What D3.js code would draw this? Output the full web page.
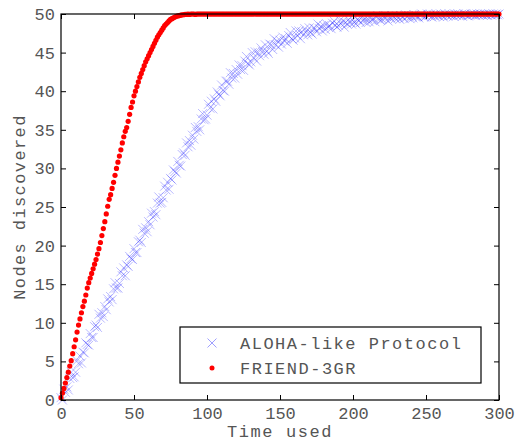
<!DOCTYPE html>
<html>
<head>
<meta charset="utf-8">
<script src="https://cdn.jsdelivr.net/npm/d3@7"></script>
<style>
  body { margin: 0; background: #fff; }
  text { font-family: "Liberation Mono", "DejaVu Sans Mono", monospace; fill: #555; }
</style>
</head>
<body>
<svg width="516" height="441"></svg>
<script>
// time steps (one sample per time unit)
const timeSteps = d3.range(0, 301);

// FRIEND-3GR, nodes discovered per time step
const friendNodes = [
  0.3, 0.9, 1.5, 2.2, 2.9, 3.6, 4.4, 5.1, 6.0, 6.9,
  7.8, 8.8, 9.7, 10.5, 11.3, 12.1, 12.8, 13.6, 14.5, 15.2,
  15.8, 16.4, 17.0, 17.6, 18.2, 18.9, 19.6, 20.4, 21.3, 22.2,
  23.1, 24.1, 25.1, 26.0, 26.6, 27.4, 28.2, 29.1, 30.0, 30.8,
  31.6, 32.4, 33.3, 34.1, 34.8, 35.3, 36.1, 37.0, 37.9, 38.6,
  39.4, 40.0, 40.6, 41.2, 41.8, 42.3, 42.8, 43.3, 43.8, 44.2,
  44.6, 45.0, 45.4, 45.8, 46.2, 46.6, 47.0, 47.3, 47.6, 47.9,
  48.2, 48.5, 48.7, 48.9, 49.1, 49.3, 49.4, 49.5, 49.6, 49.7,
  49.75, 49.8, 49.85, 49.9, 49.9, 49.95, 49.95, 50, 49.95, 50,
  50, 50, 49.95, 50, 50, 50, 50, 50, 50, 50,
  50, 50, 50, 50, 50, 50, 50, 50, 50, 50, 50, 50, 50, 50, 50, 50, 50, 50, 50, 50,
  50, 50, 50, 50, 50, 50, 50, 50, 50, 50, 50, 50, 50, 50, 50, 50, 50, 50, 50, 50,
  50, 50, 50, 50, 50, 50, 50, 50, 50, 50, 50, 50, 50, 50, 50, 50, 50, 50, 50, 50,
  50, 50, 50, 50, 50, 50, 50, 50, 50, 50, 50, 50, 50, 50, 50, 50, 50, 50, 50, 50,
  50, 50, 50, 50, 50, 50, 50, 50, 50, 50, 50, 50, 50, 50, 50, 50, 50, 50, 50, 50,
  50, 50, 50, 50, 50, 50, 50, 50, 50, 50, 50, 50, 50, 50, 50, 50, 50, 50, 50, 50,
  50, 50, 50, 50, 50, 50, 50, 50, 50, 50, 50, 50, 50, 50, 50, 50, 50, 50, 50, 50,
  50, 50, 50, 50, 50, 50, 50, 50, 50, 50, 50, 50, 50, 50, 50, 50, 50, 50, 50, 50,
  50, 50, 50, 50, 50, 50, 50, 50, 50, 50, 50, 50, 50, 50, 50, 50, 50, 50, 50, 50,
  50, 50, 50, 50, 50, 50, 50, 50, 50, 50, 50, 50, 50, 50, 50, 50, 50, 50, 50, 50,
  50
];

// ALOHA-like protocol, nodes discovered per time step
const alohaNodes = [
  0.3, 0.0, 1.4, 1.0, 1.7, 1.3, 2.8, 3.6, 2.9, 3.0,
  3.6, 5.1, 4.7, 5.7, 4.8, 6.2, 6.1, 7.4, 7.2, 7.1,
  8.6, 8.1, 8.1, 9.5, 9.7, 9.4, 11.1, 10.6, 11.3, 10.8,
  12.1, 11.7, 13.1, 12.7, 13.4, 13.0, 14.4, 15.2, 14.5, 14.5,
  15.1, 16.6, 16.1, 17.1, 16.1, 17.5, 17.3, 18.6, 18.3, 18.2,
  19.6, 19.1, 19.1, 20.5, 20.7, 20.4, 22.1, 21.6, 22.3, 21.8,
  23.1, 22.7, 24.2, 23.7, 24.4, 24.0, 25.5, 26.3, 25.5, 25.6,
  26.2, 27.7, 27.2, 28.2, 27.3, 28.7, 28.5, 29.8, 29.6, 29.4,
  30.9, 30.4, 30.3, 31.8, 32.0, 31.7, 33.3, 32.8, 33.6, 33.0,
  34.3, 33.8, 35.3, 34.8, 35.4, 35.0, 36.4, 37.1, 36.3, 36.4,
  36.9, 38.3, 37.8, 38.7, 37.7, 39.0, 38.7, 39.9, 39.6, 39.4,
  40.8, 40.1, 40.0, 41.3, 41.3, 40.9, 42.4, 41.7, 42.3, 41.7,
  42.8, 42.2, 43.4, 42.8, 43.3, 42.7, 43.9, 44.5, 43.6, 43.4,
  43.8, 45.0, 44.3, 45.1, 43.9, 45.0, 44.6, 45.6, 45.2, 44.8,
  46.0, 45.2, 44.9, 46.1, 46.0, 45.4, 46.8, 46.0, 46.5, 45.7,
  46.6, 46.1, 47.0, 46.5, 46.8, 46.2, 47.2, 47.6, 46.8, 46.6,
  46.9, 47.8, 47.2, 47.8, 46.8, 47.7, 47.3, 48.1, 47.7, 47.3,
  48.2, 47.6, 47.4, 48.2, 48.1, 47.7, 48.7, 48.1, 48.4, 47.8,
  48.5, 48.0, 48.7, 48.3, 48.5, 48.1, 48.8, 49.1, 48.5, 48.3,
  48.5, 49.2, 48.7, 49.1, 48.3, 48.9, 48.7, 49.3, 48.9, 48.7,
  49.3, 48.9, 48.7, 49.3, 49.2, 48.9, 49.6, 49.1, 49.4, 48.9,
  49.4, 49.0, 49.6, 49.2, 49.4, 49.0, 49.6, 49.8, 49.3, 49.2,
  49.3, 49.8, 49.4, 49.7, 49.1, 49.6, 49.4, 49.8, 49.6, 49.4,
  49.8, 49.5, 49.3, 49.8, 49.6, 49.4, 49.9, 49.6, 49.8, 49.4,
  49.8, 49.5, 49.9, 49.7, 49.7, 49.5, 49.9, 50.0, 49.7, 49.6,
  49.7, 50.0, 49.8, 49.95, 49.6, 49.9, 49.7, 50.0, 49.8, 49.7,
  50.0, 49.8, 49.6, 50.0, 49.9, 49.7, 50.0, 49.8, 49.9, 49.7,
  50.0, 49.8, 50.0, 49.85, 49.9, 49.7, 50.0, 50.0, 49.8, 49.75,
  49.9, 50.0, 49.9, 50.0, 49.8, 50.0, 49.9, 50.0, 49.95, 49.85,
  50.0, 49.9, 49.8, 50.0, 49.95, 49.85, 50.0, 49.9, 50.0, 49.9,
  50.0
];

const xTicks = [0, 50, 100, 150, 200, 250, 300];
const yTicks = [0, 5, 10, 15, 20, 25, 30, 35, 40, 45, 50];
const seriesNames = ['ALOHA-like Protocol', 'FRIEND-3GR'];

let margin = { top: 14, right: 17, bottom: 41, left: 61 },
  width = 516 - margin.left - margin.right,
  height = 441 - margin.top - margin.bottom;

const x = d3.scaleLinear().domain([0, 300]).range([0, width]);
const y = d3.scaleLinear().domain([0, 50]).range([height, 0]);

const svg = d3.select('svg')
  .append('g')
  .attr('transform', `translate(${margin.left}, ${margin.top})`);

const plot = svg.append('g');

// ALOHA crosses
const cs = 4.5;
plot.selectAll('.aloha')
  .data(timeSteps)
  .enter()
  .append('path')
  .attr('class', 'aloha')
  .attr('d', t => {
    const px = x(t), py = y(alohaNodes[t]);
    return `M${px - cs},${py - cs}L${px + cs},${py + cs}M${px - cs},${py + cs}L${px + cs},${py - cs}`;
  })
  .attr('stroke', '#2a2aff')
  .attr('stroke-opacity', 0.33)
  .attr('stroke-width', 1)
  .attr('fill', 'none');

// FRIEND dots
plot.selectAll('.friend')
  .data(timeSteps)
  .enter()
  .append('circle')
  .attr('class', 'friend')
  .attr('cx', t => x(t))
  .attr('cy', t => y(friendNodes[t]))
  .attr('r', 2.6)
  .attr('fill', '#ff0000');

// axes, ticks pointing inward on all four sides
const tl = 5;
svg.append('g')
  .attr('transform', `translate(0,${height})`)
  .call(d3.axisBottom(x).tickValues(xTicks).tickSizeInner(-tl).tickSizeOuter(0).tickPadding(6))
  .call(g => g.selectAll('text').attr('font-size', 17).attr('dy', '0.75em'));
svg.append('g')
  .call(d3.axisTop(x).tickValues(xTicks).tickSizeInner(-tl).tickSizeOuter(0).tickFormat(''));
svg.append('g')
  .call(d3.axisLeft(y).tickValues(yTicks).tickSizeInner(-tl).tickSizeOuter(0).tickPadding(6))
  .call(g => g.selectAll('text').attr('font-size', 17));
svg.append('g')
  .attr('transform', `translate(${width},0)`)
  .call(d3.axisRight(y).tickValues(yTicks).tickSizeInner(-tl).tickSizeOuter(0).tickFormat(''));

svg.selectAll('.domain').remove();
svg.selectAll('.tick line').attr('stroke', '#000');
svg.selectAll('.tick text').attr('fill', '#555').attr('font-family', '"Liberation Mono", monospace');

svg.append('rect')
  .attr('width', width)
  .attr('height', height)
  .attr('fill', 'none')
  .attr('stroke', '#000')
  .attr('stroke-width', 1.2);

// axis titles
svg.append('text')
  .attr('x', width / 2)
  .attr('y', height + 37)
  .attr('text-anchor', 'middle')
  .attr('font-size', 17)
  .attr('letter-spacing', 1.6)
  .text('Time used');

svg.append('text')
  .attr('transform', `translate(${-36},${height / 2}) rotate(-90)`)
  .attr('text-anchor', 'middle')
  .attr('font-size', 17)
  .attr('letter-spacing', 1.4)
  .text('Nodes discovered');

// legend
const lg = svg.append('g').attr('transform', `translate(${180 - margin.left},${327 - margin.top})`);
lg.append('rect')
  .attr('width', 301)
  .attr('height', 56)
  .attr('fill', '#fff')
  .attr('stroke', '#000')
  .attr('stroke-width', 1.2);
const lc = 4.5, lx = 32, ly1 = 16, ly2 = 41;
lg.append('path')
  .attr('d', `M${lx - lc},${ly1 - lc}L${lx + lc},${ly1 + lc}M${lx - lc},${ly1 + lc}L${lx + lc},${ly1 - lc}`)
  .attr('stroke', '#2a2aff')
  .attr('stroke-opacity', 0.45)
  .attr('fill', 'none');
lg.append('circle')
  .attr('cx', lx)
  .attr('cy', ly2)
  .attr('r', 2.5)
  .attr('fill', '#ff0000');
lg.selectAll('.lt')
  .data(seriesNames)
  .enter()
  .append('text')
  .attr('class', 'lt')
  .attr('x', 60)
  .attr('y', (d, i) => i === 0 ? ly1 : ly2)
  .attr('dy', '0.35em')
  .attr('font-size', 17)
  .attr('letter-spacing', 1.5)
  .text(d => d);
</script>
</body>
</html>
